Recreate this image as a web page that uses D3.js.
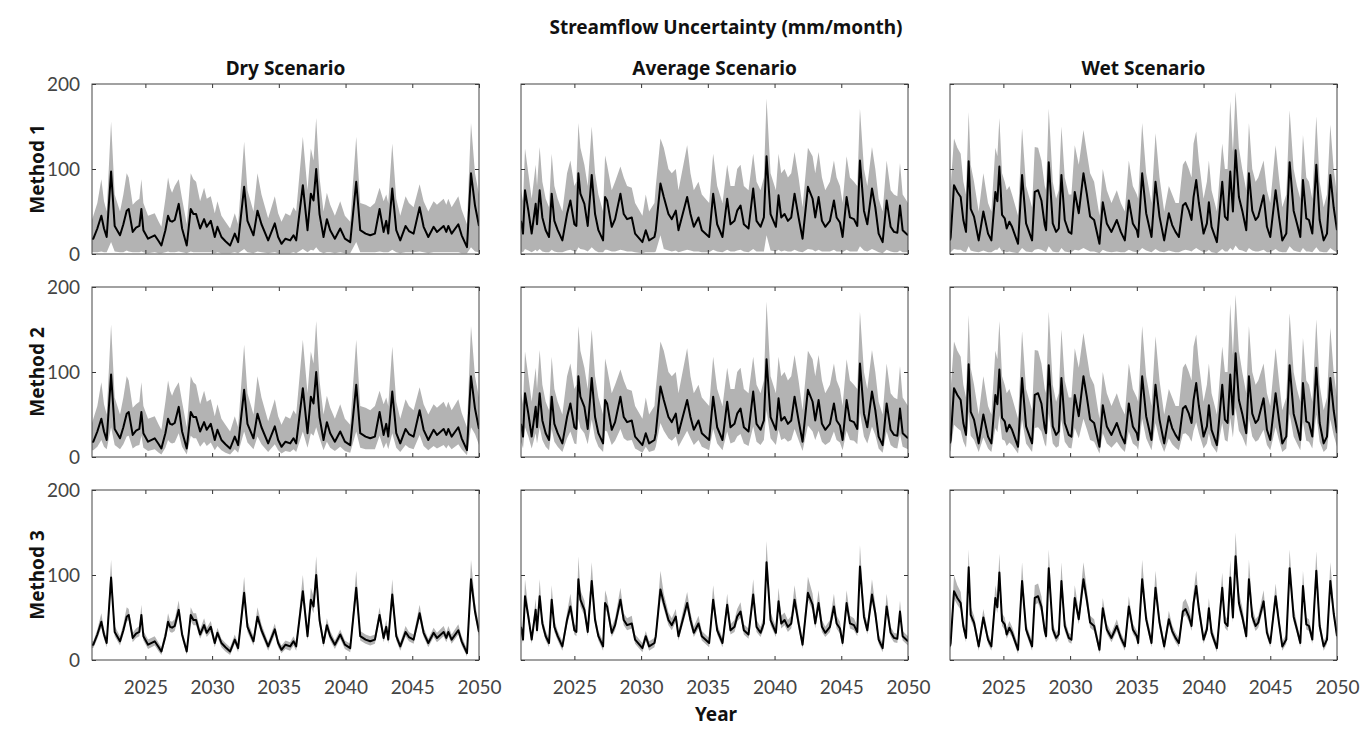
<!DOCTYPE html>
<html>
<head>
<meta charset="utf-8">
<script src="https://cdn.jsdelivr.net/npm/d3@7"></script>
<style>
  body { margin: 0; background: #fff; }
  svg text { font-family: "Lato", "DejaVu Sans", sans-serif; }
  .tick text { fill: #444; font-size: 19px; }
  .tick line { stroke: #333; }
  .ttl { font-family: "Noto Sans", "DejaVu Sans", sans-serif; font-weight: 700; font-size: 19px; fill: #111; }
</style>
</head>
<body>
<div id="chart"></div>
<script>
// ---- data (decimal year, mm/month) ----
var dryYears = [2021.0,2021.1,2021.4,2021.7,2021.9,2022.1,2022.43,2022.7,2023.1,2023.35,
  2023.6,2023.75,2024.05,2024.3,2024.55,2024.7,2024.85,2025.2,2025.7,2026.0,
  2026.2,2026.5,2026.7,2026.85,2027.0,2027.2,2027.5,2027.75,2028.1,2028.4,
  2028.6,2028.8,2029.1,2029.4,2029.6,2029.9,2030.2,2030.4,2030.7,2031.0,
  2031.35,2031.7,2031.95,2032.4,2032.65,2033.1,2033.4,2033.7,2034.2,2034.7,
  2034.95,2035.2,2035.5,2035.85,2036.1,2036.3,2036.8,2037.15,2037.4,2037.6,
  2037.8,2038.05,2038.35,2038.6,2038.85,2039.2,2039.6,2039.95,2040.35,2040.8,
  2041.1,2041.5,2041.85,2042.2,2042.55,2042.85,2043.05,2043.2,2043.5,2043.8,
  2044.1,2044.5,2044.75,2045.1,2045.55,2045.85,2046.2,2046.6,2046.85,2047.35,
  2047.55,2047.7,2047.95,2048.45,2048.7,2049.1,2049.4,2049.7,2050.0];
var dryMedian = [18,18,30,45,30,20,97,33,22,35, 51,53,26,31,33,53,28,18,22,15,
  10,28,45,39,38,40,59,30,10,53, 47,47,30,41,32,39,20,32,20,15,
  10,24,14,79,39,22,51,35,16,36, 20,12,18,16,22,16,81,28,71,63,
  100,47,20,41,28,18,30,18,14,85, 28,24,22,24,53,26,39,24,77,28,
  16,33,27,24,55,32,20,32,26,33, 26,33,24,35,22,8,95,57,33];
var dryUpper12 = [40,45,60,88,62,50,156,70,50,70, 95,90,58,62,65,88,60,45,48,38,
  32,65,90,78,72,80,88,65,35,95, 88,85,62,78,65,68,48,62,45,38,
  30,48,35,132,75,50,95,70,42,68, 48,38,48,45,55,50,138,75,124,110,
  160,90,50,72,58,45,62,45,38,138, 60,58,55,60,78,62,70,60,130,65,
  45,68,60,55,82,62,50,62,58,65, 58,65,55,68,52,35,154,95,70];
var dryLower1 = [2,2,2,3,2,2,14,3,2,2, 4,3,2,2,2,3,2,1,2,1,
  1,2,3,2,2,2,3,2,1,3, 2,2,2,2,2,2,1,2,1,1,
  1,2,1,6,2,1,3,2,1,2, 1,1,1,1,2,1,6,2,5,4,
  8,3,1,2,2,1,2,1,1,14, 2,2,2,2,3,2,2,2,5,2,
  1,2,2,2,3,2,1,2,2,2, 2,2,2,2,1,1,8,3,2];
var dryLower2 = [8,8,12,20,12,9,35,14,9,15, 24,25,10,13,14,25,11,7,9,5,
  3,11,20,17,16,17,28,12,3,25, 22,22,12,18,13,17,8,13,8,5,
  3,9,5,30,17,9,24,15,6,15, 8,4,7,6,9,6,30,11,28,25,
  35,22,8,18,11,7,12,7,5,30, 11,9,9,9,25,10,17,9,28,11,
  6,14,11,9,26,13,8,13,10,14, 10,14,9,15,9,2,35,27,14];
var dryUpper3 = [22,22,36,55,36,26,118,40,28,42, 62,60,32,37,40,65,34,24,28,20,
  15,35,55,46,45,48,70,36,15,62, 55,55,36,49,38,46,25,38,25,20,
  15,30,19,98,46,28,62,42,21,43, 25,17,23,21,28,21,100,35,85,75,
  122,56,25,49,34,23,36,23,19,105, 34,30,28,30,62,32,47,30,95,34,
  21,40,33,30,65,38,25,38,32,40, 32,40,30,42,28,13,118,68,40];
var dryLower3 = [14,14,25,38,25,15,88,28,17,30, 45,47,21,26,28,46,23,13,17,10,
  6,23,39,33,32,34,52,25,6,46, 41,41,25,35,27,33,15,27,15,10,
  6,19,9,70,33,17,45,30,11,30, 15,8,13,11,17,11,72,23,63,55,
  90,41,15,35,23,13,25,13,9,76, 23,19,17,19,46,21,33,19,69,23,
  11,28,22,19,48,27,15,27,21,28, 21,28,19,30,17,4,85,50,28];

var avgYears = [2021.0,2021.15,2021.3,2021.55,2021.8,2022.1,2022.2,2022.4,2022.6,2022.85,
  2023.1,2023.3,2023.5,2023.75,2024.1,2024.45,2024.7,2025.0,2025.15,2025.3,
  2025.45,2025.75,2026.0,2026.3,2026.55,2026.8,2027.15,2027.3,2027.45,2027.8,
  2028.05,2028.45,2028.7,2028.95,2029.3,2029.55,2030.1,2030.35,2030.6,2031.0,
  2031.1,2031.45,2031.7,2032.05,2032.3,2032.6,2032.8,2033.45,2033.7,2033.95,
  2034.3,2034.55,2035.1,2035.4,2035.7,2036.1,2036.45,2036.7,2037.0,2037.2,
  2037.45,2037.7,2038.05,2038.4,2038.65,2038.95,2039.2,2039.4,2039.7,2040.1,
  2040.3,2040.5,2040.75,2041.0,2041.25,2041.5,2041.8,2042.1,2042.5,2042.85,
  2043.05,2043.3,2043.55,2043.8,2044.15,2044.45,2044.65,2044.9,2045.1,2045.4,
  2045.65,2045.95,2046.2,2046.4,2046.7,2046.95,2047.3,2047.55,2047.8,2048.1,
  2048.4,2048.7,2048.95,2049.2,2049.4,2049.6,2050.0];
var avgMedian = [39,24,75,51,24,59,35,75,43,28, 20,71,39,28,16,47,63,35,33,95,
  71,59,33,93,47,28,16,67,63,32, 41,71,47,41,43,24,14,28,16,20,
  28,83,67,47,41,51,28,67,47,32, 43,28,20,71,35,20,65,35,39,51,
  57,35,30,77,39,32,43,115,47,32, 69,43,47,39,43,71,43,18,79,65,
  43,67,39,32,39,63,43,37,20,67, 43,41,33,110,51,35,77,55,24,14,
  63,32,26,25,57,28,22];
var avgUpper12 = [75,62,124,95,65,105,80,126,85,65, 55,118,80,65,50,95,110,80,85,154,
  125,105,80,150,95,70,50,116,105,75, 85,103,90,80,78,60,45,70,50,60,
  80,136,125,100,95,100,75,128,95,75, 85,70,60,118,80,60,105,80,80,100,
  105,80,75,118,85,75,90,183,95,75, 118,95,100,90,95,120,90,55,125,115,
  95,120,90,75,85,110,90,80,60,115, 90,85,80,171,100,80,126,100,65,50,
  110,75,70,68,107,70,60];
var avgLower1 = [3,2,6,4,2,5,3,6,3,2, 2,5,3,2,2,4,5,3,3,8,
  6,5,3,8,4,2,2,5,5,3, 3,5,4,3,3,2,1,2,2,2,
  3,22,6,4,3,4,2,5,4,3, 3,2,2,5,3,2,5,3,3,4,
  5,3,2,6,3,3,3,22,4,3, 5,3,4,3,3,5,3,2,6,5,
  3,5,3,3,3,5,3,3,2,5, 3,3,3,9,4,3,6,4,2,1,
  5,3,2,2,4,2,2];
var avgLower2 = [18,10,35,24,10,28,16,35,20,12, 8,33,18,12,6,22,30,16,15,45,
  34,28,15,44,22,12,6,31,30,14, 19,33,22,19,20,10,5,12,6,8,
  12,40,31,22,19,24,12,31,22,14, 20,12,8,33,16,8,30,16,18,24,
  27,16,13,36,18,14,20,55,22,14, 32,20,22,18,20,33,20,7,37,30,
  20,31,18,14,18,30,20,17,8,31, 20,19,15,52,24,16,36,26,10,5,
  30,14,11,10,27,12,9];
var avgUpper3 = [46,30,95,60,30,72,42,95,51,34, 26,88,47,34,22,56,78,42,40,122,
  82,70,40,115,56,34,22,82,74,39, 49,85,55,49,52,30,20,34,22,26,
  35,105,78,56,49,60,34,80,56,39, 52,34,26,88,42,26,78,42,47,60,
  68,42,37,95,47,39,52,140,56,39, 85,52,56,47,52,88,52,24,98,78,
  52,82,47,39,47,78,52,45,26,82, 52,49,40,135,60,42,95,65,30,20,
  78,39,32,31,70,34,28];
var avgLower3 = [33,19,66,45,19,52,30,66,37,23, 15,63,33,23,11,41,56,30,28,85,
  63,52,28,83,41,23,11,60,56,27, 35,63,41,35,37,19,9,23,11,15,
  23,74,60,41,35,45,23,60,41,27, 37,23,15,63,30,15,58,30,33,45,
  50,30,25,69,33,27,37,103,41,27, 61,37,41,33,37,63,37,13,71,58,
  37,60,33,27,33,56,37,31,15,60, 37,35,28,98,45,30,69,48,19,9,
  56,27,21,20,50,23,17];

var wetYears = [2021.0,2021.05,2021.3,2021.55,2021.8,2022.0,2022.2,2022.4,2022.55,2022.8,
  2023.15,2023.5,2023.85,2024.1,2024.4,2024.55,2024.7,2024.9,2025.1,2025.25,
  2025.45,2025.65,2026.1,2026.4,2026.7,2027.15,2027.35,2027.6,2027.85,2028.1,
  2028.2,2028.4,2028.7,2028.95,2029.15,2029.35,2029.6,2029.9,2030.1,2030.35,
  2030.65,2031.0,2031.25,2031.5,2031.8,2032.2,2032.45,2032.75,2033.1,2033.5,
  2033.8,2034.1,2034.4,2034.7,2035.0,2035.1,2035.4,2035.7,2036.1,2036.4,
  2036.7,2037.05,2037.4,2037.65,2037.9,2038.15,2038.45,2038.65,2038.9,2039.1,
  2039.25,2039.45,2039.65,2040.0,2040.25,2040.4,2040.6,2041.0,2041.4,2041.6,
  2041.8,2042.0,2042.2,2042.4,2042.65,2042.9,2043.2,2043.4,2043.65,2043.9,
  2044.1,2044.5,2044.75,2045.0,2045.4,2045.65,2045.9,2046.2,2046.45,2046.75,
  2047.0,2047.25,2047.45,2047.7,2047.9,2048.15,2048.45,2048.7,2049.0,2049.25,
  2049.5,2049.75,2050.0];
var wetMedian = [16,20,81,73,67,40,26,109,53,44, 16,50,24,16,73,62,103,46,42,30,
  38,32,12,93,36,16,73,75,63,34, 28,108,36,26,30,93,40,26,24,73,
  48,95,71,44,40,12,61,36,26,40, 26,16,63,36,28,20,95,48,20,85,
  44,16,48,34,26,20,57,60,51,40, 67,87,60,24,36,61,32,14,85,44,
  40,97,50,122,67,51,28,95,51,40, 44,69,32,20,75,44,16,24,108,51,
  36,20,87,42,40,24,105,40,16,24, 93,55,28];
var wetUpper12 = [50,80,136,125,118,85,70,167,105,85, 50,95,60,50,125,115,160,95,85,75,
  80,70,45,148,80,55,126,125,110,80, 75,171,85,65,75,150,90,70,70,128,
  105,146,120,95,85,45,100,75,60,75, 60,50,110,80,70,65,154,95,60,142,
  90,50,80,70,60,60,105,110,100,90, 130,144,110,65,85,110,75,50,130,100,
  100,180,120,191,125,100,75,154,100,85, 90,110,75,60,128,90,55,70,169,100,
  80,65,140,90,85,65,162,85,55,70, 152,100,70];
var wetLower1 = [2,2,6,5,5,3,2,9,4,3, 2,4,2,2,5,5,8,3,3,2,
  3,2,1,7,3,2,5,6,5,3, 2,9,3,2,2,7,3,2,2,5,
  4,7,5,3,3,1,5,3,2,3, 2,2,5,3,2,2,7,4,2,6,
  3,2,4,3,2,2,4,5,4,3, 5,7,5,2,3,5,2,1,6,3,
  3,7,4,10,5,4,2,7,4,3, 3,5,2,2,6,3,2,2,9,4,
  3,2,7,3,3,2,8,3,2,2, 7,4,2];
var wetLower2 = [6,8,38,34,31,18,11,52,25,20, 6,23,10,6,34,29,49,21,19,13,
  17,14,4,44,16,6,34,35,30,15, 12,51,16,11,13,44,18,11,10,34,
  22,45,33,20,18,4,28,16,11,18, 11,6,30,16,12,8,45,22,8,40,
  20,6,22,15,11,8,27,28,24,18, 31,41,28,10,16,28,14,5,40,20,
  18,46,23,58,31,24,12,45,24,18, 20,32,14,8,35,20,6,10,51,24,
  16,8,41,19,18,10,50,18,6,10, 44,26,12];
var wetUpper3 = [20,28,100,88,80,48,32,130,63,52, 22,60,30,22,88,74,125,55,50,37,
  46,39,18,115,43,22,88,90,75,41, 34,130,43,32,37,115,48,32,30,88,
  57,115,84,52,48,18,73,43,32,48, 32,22,75,43,34,26,118,57,26,105,
  52,22,58,41,32,26,68,72,62,48, 80,105,70,30,43,73,39,20,103,52,
  48,118,60,150,80,62,34,118,62,48, 52,82,39,26,90,52,22,30,130,62,
  43,26,105,50,48,30,128,48,22,30, 115,66,34];
var wetLower3 = [12,15,72,65,59,34,21,98,47,38, 11,44,19,11,65,55,92,40,36,25,
  32,27,7,83,31,11,65,67,56,29, 23,97,31,21,25,83,34,21,19,65,
  42,85,63,38,34,7,54,31,21,34, 21,11,56,31,23,15,85,42,15,76,
  38,11,42,29,21,15,50,53,45,34, 59,78,53,19,31,54,27,9,76,38,
  34,87,44,110,59,45,23,85,45,34, 38,61,27,15,67,38,11,19,97,45,
  31,15,78,36,34,19,94,34,11,19, 83,49,23];

var scenarioNames = ["Dry Scenario", "Average Scenario", "Wet Scenario"];
var methodNames = ["Method 1", "Method 2", "Method 3"];
var xTicks = [2025, 2030, 2035, 2040, 2045, 2050];
var yTicks = [0, 100, 200];

// scenario -> median + one [lower, upper] band per method
var scenarios = [
  {years: dryYears, median: dryMedian,
   bands: [[dryLower1, dryUpper12], [dryLower2, dryUpper12], [dryLower3, dryUpper3]]},
  {years: avgYears, median: avgMedian,
   bands: [[avgLower1, avgUpper12], [avgLower2, avgUpper12], [avgLower3, avgUpper3]]},
  {years: wetYears, median: wetMedian,
   bands: [[wetLower1, wetUpper12], [wetLower2, wetUpper12], [wetLower3, wetUpper3]]}
];

// ---- layout ----
var W = 1370, H = 729;
var colLeft = [92, 521, 950], panelW = 387;
var rowTop = [84, 287, 490], panelH = 170;

var svg = d3.select("#chart").append("svg")
  .attr("width", W).attr("height", H);

svg.append("text").attr("class", "ttl")
  .attr("x", 726).attr("y", 34).attr("text-anchor", "middle")
  .text("Streamflow Uncertainty (mm/month)");

svg.append("text").attr("class", "ttl")
  .attr("x", 716).attr("y", 721).attr("text-anchor", "middle")
  .text("Year");

scenarioNames.forEach(function(name, c) {
  svg.append("text").attr("class", "ttl")
    .attr("x", colLeft[c] + panelW / 2).attr("y", 75).attr("text-anchor", "middle")
    .text(name);
});

methodNames.forEach(function(name, r) {
  svg.append("text").attr("class", "ttl")
    .attr("transform", "translate(44," + (rowTop[r] + panelH / 2) + ") rotate(-90)")
    .attr("text-anchor", "middle")
    .text(name);
});

scenarios.forEach(function(sc, c) {
  methodNames.forEach(function(m, r) {
    var x0 = colLeft[c], y0 = rowTop[r];
    var x = d3.scaleLinear().domain([2021, 2050]).range([x0, x0 + panelW]);
    var y = d3.scaleLinear().domain([0, 200]).range([y0 + panelH, y0]);

    var clipId = "clip" + c + r;
    svg.append("clipPath").attr("id", clipId)
      .append("rect").attr("x", x0).attr("y", y0)
      .attr("width", panelW).attr("height", panelH);

    var g = svg.append("g").attr("clip-path", "url(#" + clipId + ")");
    var band = sc.bands[r];
    var idx = d3.range(sc.years.length);

    var area = d3.area()
      .x(function(i) { return x(sc.years[i]); })
      .y0(function(i) { return y(band[0][i]); })
      .y1(function(i) { return y(band[1][i]); });
    g.append("path").datum(idx)
      .attr("fill", "#b3b3b3")
      .attr("d", area);

    var line = d3.line()
      .x(function(i) { return x(sc.years[i]); })
      .y(function(i) { return y(sc.median[i]); });
    g.append("path").datum(idx)
      .attr("fill", "none")
      .attr("stroke", "#000")
      .attr("stroke-width", 2)
      .attr("stroke-linejoin", "round")
      .attr("d", line);

    // axes with inward ticks
    svg.append("g")
      .attr("transform", "translate(0," + (y0 + panelH) + ")")
      .call(d3.axisBottom(x).tickValues(xTicks).tickSize(-4).tickPadding(21)
        .tickFormat(r === 2 ? d3.format("d") : ""));
    svg.append("g")
      .attr("transform", "translate(0," + y0 + ")")
      .call(d3.axisTop(x).tickValues(xTicks).tickSize(-4).tickFormat(""));
    svg.append("g")
      .attr("transform", "translate(" + x0 + ",0)")
      .call(d3.axisLeft(y).tickValues(yTicks).tickSize(-4).tickPadding(12)
        .tickFormat(c === 0 ? d3.format("d") : ""));
    svg.append("g")
      .attr("transform", "translate(" + (x0 + panelW) + ",0)")
      .call(d3.axisRight(y).tickValues(yTicks).tickSize(-4).tickFormat(""));
    svg.selectAll(".domain").remove();

    svg.append("rect")
      .attr("x", x0).attr("y", y0)
      .attr("width", panelW).attr("height", panelH)
      .attr("fill", "none").attr("stroke", "#444").attr("stroke-width", 1);
  });
});
</script>
</body>
</html>
